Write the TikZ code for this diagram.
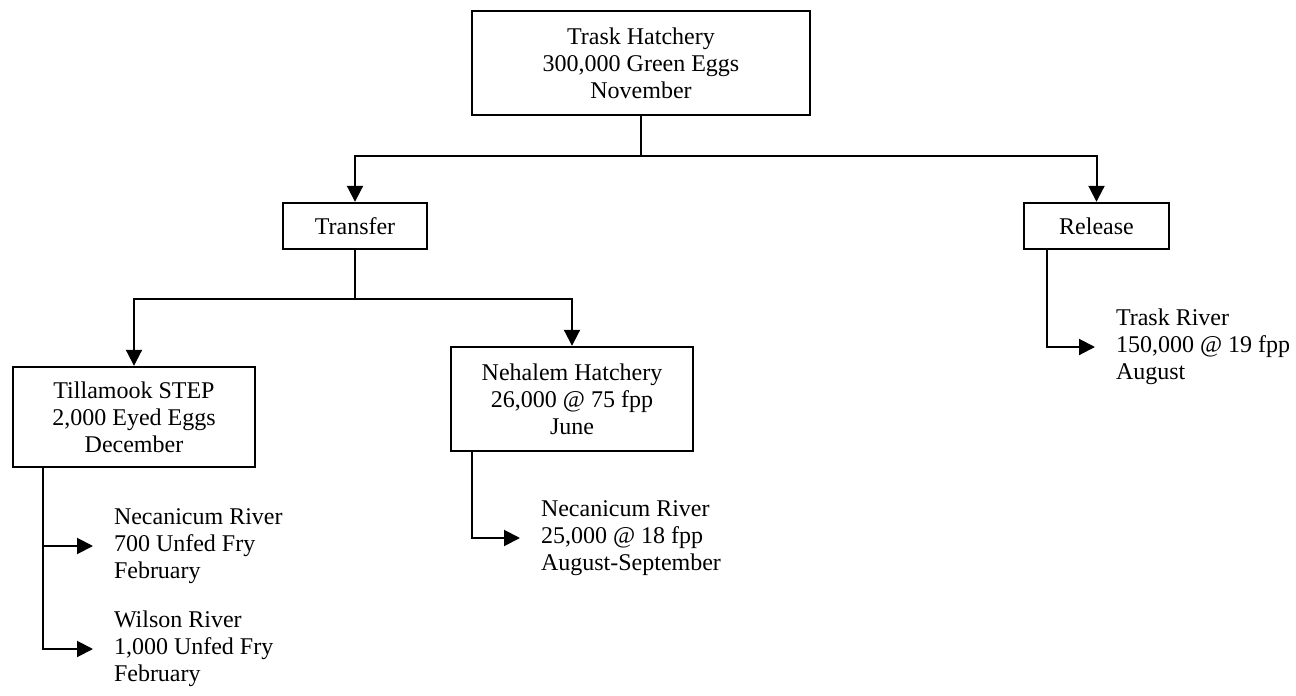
\documentclass[tikz,border=0pt]{standalone}
\usepackage{fontspec}
\setmainfont{Liberation Serif}
\usetikzlibrary{arrows.meta}

\begin{document}
\begin{tikzpicture}[x=0.5pt,y=-0.5pt,line width=1pt,
    font=\fontsize{12}{13.5}\selectfont,
    box/.style={draw,line width=1.2pt,align=center,inner sep=0pt},
    leaf/.style={anchor=west,align=left,inner xsep=10pt,inner ysep=0pt},
    arr/.style={-{Triangle[length=8pt,width=8pt]}}]
  \useasboundingbox (0,0) rectangle (1296,696);
  \node[box,minimum width=169pt,minimum height=52pt](trask)at(641,63){Trask Hatchery\\300,000 Green Eggs\\November};
  \node[box,minimum width=72pt,minimum height=23pt](transfer)at(355,226){Transfer};
  \node[box,minimum width=72.5pt,minimum height=23pt](release)at(1096.5,226){Release};
  \node[box,minimum width=121pt,minimum height=50pt](step)at(134,417){Tillamook STEP\\2,000 Eyed Eggs\\December};
  \node[box,minimum width=121pt,minimum height=52pt](nehalem)at(572,399){Nehalem Hatchery\\26,000 @ 75 fpp\\June};
  \node[leaf](trriver)at(1095,347){Trask River\\150,000 @ 19 fpp\\August};
  \node[leaf](necstep)at(93,546){Necanicum River\\700 Unfed Fry\\February};
  \node[leaf](wilson)at(93,649){Wilson River\\1,000 Unfed Fry\\February};
  \node[leaf](necneh)at(520,538){Necanicum River\\25,000 @ 18 fpp\\August-September};
  % branches
  \draw(trask.south)--++(0,40)coordinate(j1);
  \draw[arr](j1)-|(transfer.north);
  \draw[arr](j1)-|(release.north);
  \draw(transfer.south)--++(0,49)coordinate(j2);
  \draw[arr](j2)-|(step.north);
  \draw[arr](j2)-|(nehalem.north);
  % releases
  \draw[arr](release.south west)++(24,0)|-(trriver.west);
  \draw[arr](nehalem.south west)++(22,0)|-(necneh.west);
  \draw[arr](step.south west)++(31,0)|-(necstep.west);
  \draw[arr](step.south west)++(31,0)|-(wilson.west);
\end{tikzpicture}
\end{document}
